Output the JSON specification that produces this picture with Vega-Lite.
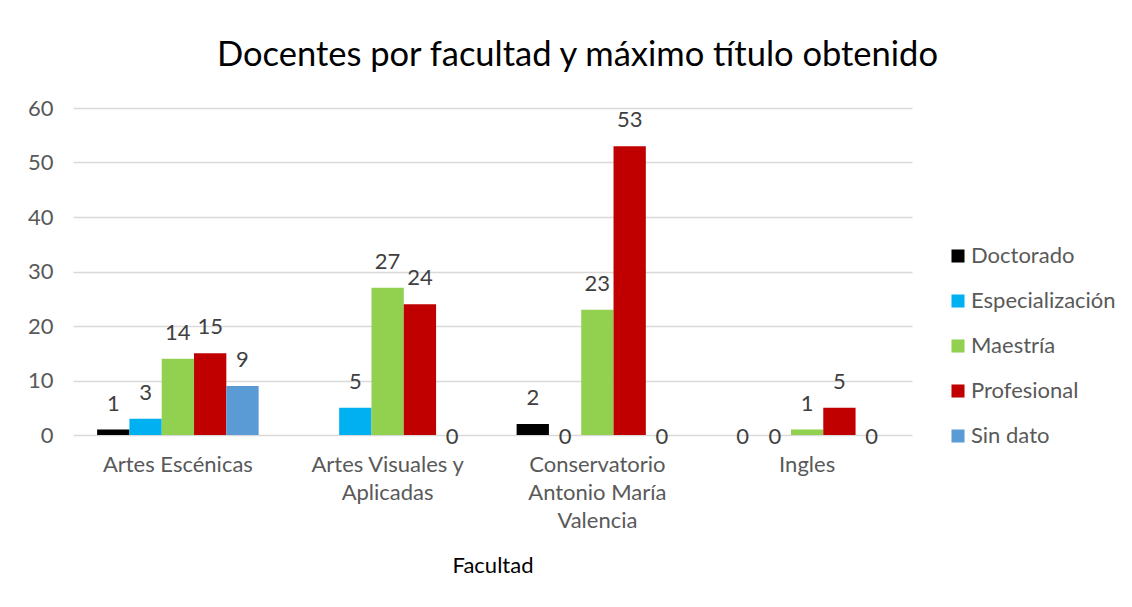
{
  "$schema": "https://vega.github.io/schema/vega-lite/v6.json",
  "width": 839,
  "height": 327,
  "autosize": {"type": "none"},
  "padding": {"left": 73, "top": 108, "right": 220, "bottom": 172},
  "background": "white",
  "config": {
    "font": "Lato",
    "view": {"stroke": null}
  },
  "title": {
    "text": "Docentes por facultad y máximo título obtenido",
    "fontSize": 34.5,
    "font": "Lato",
    "fontWeight": "normal",
    "color": "#000000",
    "anchor": "middle",
    "dx": 85,
    "offset": 24
  },
  "data": {
    "values": [
      {"Facultad": "Artes Escénicas", "Titulo": "Doctorado", "Docentes": 1},
      {"Facultad": "Artes Escénicas", "Titulo": "Especialización", "Docentes": 3},
      {"Facultad": "Artes Escénicas", "Titulo": "Maestría", "Docentes": 14},
      {"Facultad": "Artes Escénicas", "Titulo": "Profesional", "Docentes": 15},
      {"Facultad": "Artes Escénicas", "Titulo": "Sin dato", "Docentes": 9},
      {"Facultad": "Artes Visuales y Aplicadas", "Titulo": "Especialización", "Docentes": 5},
      {"Facultad": "Artes Visuales y Aplicadas", "Titulo": "Maestría", "Docentes": 27},
      {"Facultad": "Artes Visuales y Aplicadas", "Titulo": "Profesional", "Docentes": 24},
      {"Facultad": "Artes Visuales y Aplicadas", "Titulo": "Sin dato", "Docentes": 0},
      {"Facultad": "Conservatorio Antonio María Valencia", "Titulo": "Doctorado", "Docentes": 2},
      {"Facultad": "Conservatorio Antonio María Valencia", "Titulo": "Especialización", "Docentes": 0},
      {"Facultad": "Conservatorio Antonio María Valencia", "Titulo": "Maestría", "Docentes": 23},
      {"Facultad": "Conservatorio Antonio María Valencia", "Titulo": "Profesional", "Docentes": 53},
      {"Facultad": "Conservatorio Antonio María Valencia", "Titulo": "Sin dato", "Docentes": 0},
      {"Facultad": "Ingles", "Titulo": "Doctorado", "Docentes": 0},
      {"Facultad": "Ingles", "Titulo": "Especialización", "Docentes": 0},
      {"Facultad": "Ingles", "Titulo": "Maestría", "Docentes": 1},
      {"Facultad": "Ingles", "Titulo": "Profesional", "Docentes": 5},
      {"Facultad": "Ingles", "Titulo": "Sin dato", "Docentes": 0}
    ]
  },
  "encoding": {
    "x": {
      "field": "Facultad",
      "type": "nominal",
      "sort": ["Artes Escénicas", "Artes Visuales y Aplicadas", "Conservatorio Antonio María Valencia", "Ingles"],
      "scale": {"paddingInner": 0.23, "paddingOuter": 0.115},
      "axis": {
        "title": "Facultad",
        "titleFont": "Lato",
        "titleFontSize": 22,
        "titleFontWeight": "normal",
        "titleColor": "#000000",
        "titlePadding": 24,
        "labelAngle": 0,
        "labelFont": "Lato",
        "labelFontSize": 22,
        "labelColor": "#595959",
        "labelPadding": 19,
        "labelLineHeight": 28,
        "labelExpr": "datum.label == 'Artes Visuales y Aplicadas' ? ['Artes Visuales y', 'Aplicadas'] : datum.label == 'Conservatorio Antonio María Valencia' ? ['Conservatorio', 'Antonio María', 'Valencia'] : datum.label",
        "domain": false,
        "ticks": false,
        "grid": false
      }
    },
    "xOffset": {
      "field": "Titulo",
      "type": "nominal",
      "sort": ["Doctorado", "Especialización", "Maestría", "Profesional", "Sin dato"],
      "scale": {"paddingInner": 0, "paddingOuter": 0}
    },
    "y": {
      "field": "Docentes",
      "type": "quantitative",
      "scale": {"domain": [0, 60]},
      "axis": {
        "title": null,
        "values": [0, 10, 20, 30, 40, 50, 60],
        "labelOverlap": false,
        "labelFont": "Lato",
        "labelFontSize": 22,
        "labelColor": "#595959",
        "labelPadding": 20,
        "domain": false,
        "ticks": false,
        "gridColor": "#d9d9d9",
        "gridWidth": 1.5
      }
    }
  },
  "layer": [
    {
      "mark": {"type": "bar"},
      "encoding": {
        "color": {
          "field": "Titulo",
          "type": "nominal",
          "sort": ["Doctorado", "Especialización", "Maestría", "Profesional", "Sin dato"],
          "scale": {
            "domain": ["Doctorado", "Especialización", "Maestría", "Profesional", "Sin dato"],
            "range": ["#000000", "#00b0f0", "#92d050", "#c00000", "#5b9bd5"]
          },
          "legend": {
            "title": null,
            "orient": "none",
            "legendX": 874,
            "legendY": 137,
            "symbolType": "square",
            "symbolSize": 170,
            "symbolStrokeWidth": 0,
            "labelFont": "Lato",
            "labelFontSize": 22,
            "labelColor": "#595959",
            "labelOffset": 2,
            "rowPadding": 23,
            "labelLimit": 300
          }
        }
      }
    },
    {
      "transform": [{"filter": "datum.Docentes > 0"}],
      "mark": {"type": "text", "baseline": "middle", "dy": -26, "fontSize": 22, "font": "Lato", "color": "#404040"},
      "encoding": {"text": {"field": "Docentes", "type": "quantitative"}}
    },
    {
      "transform": [{"filter": "datum.Docentes == 0"}],
      "mark": {"type": "text", "baseline": "middle", "dy": 2, "fontSize": 22, "font": "Lato", "color": "#404040"},
      "encoding": {"text": {"field": "Docentes", "type": "quantitative"}}
    }
  ]
}
